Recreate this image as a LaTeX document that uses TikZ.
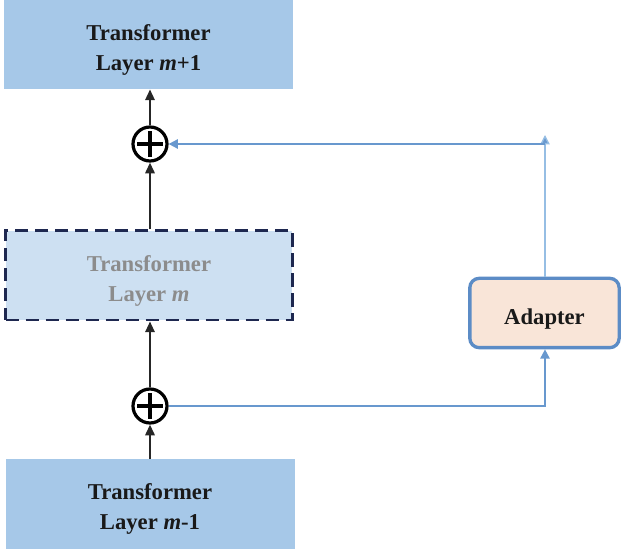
\documentclass[tikz,border=0pt]{standalone}
\usepackage{fontspec}
\setmainfont{Liberation Serif}
\usetikzlibrary{arrows.meta}
\definecolor{layerblue}{RGB}{166,200,232}
\definecolor{layerlight}{RGB}{205,224,242}
\definecolor{navy}{RGB}{30,40,80}
\definecolor{adfill}{RGB}{249,229,216}
\definecolor{adborder}{RGB}{92,140,198}
\definecolor{linkblue}{RGB}{104,152,206}
\definecolor{linklight}{RGB}{150,190,228}
\definecolor{txtgray}{RGB}{140,140,140}
\newcommand{\lowstrut}{\rule{0pt}{19.5pt}}
\begin{document}
\begin{tikzpicture}[x=0.75pt,y=-0.75pt,
  layerbox/.style={draw=none,fill=layerblue,minimum width=216.75pt,minimum height=67pt,
    align=center,font=\fontsize{17}{22.5}\selectfont\bfseries,text=black!90,inner sep=0pt},
  ghostbox/.style={draw=navy,line width=2pt,dash pattern=on 10pt off 5pt,fill=layerlight,
    minimum width=215pt,minimum height=67pt,align=center,
    font=\fontsize{17}{22.5}\selectfont\bfseries,text=txtgray,inner sep=0pt},
  adapterbox/.style={draw=adborder,line width=2.5pt,fill=adfill,rounded corners=7pt,
    minimum width=112pt,minimum height=52pt,font=\fontsize{17}{22.5}\selectfont\bfseries,
    text=black!90,inner sep=0pt},
  addnode/.style={circle,draw=black,line width=2.4pt,minimum size=25.5pt,inner sep=0pt,
    path picture={\draw[line width=2.4pt]
      ([xshift=-9.5pt]path picture bounding box.center) -- ([xshift=9.5pt]path picture bounding box.center)
      ([yshift=-9.5pt]path picture bounding box.center) -- ([yshift=9.5pt]path picture bounding box.center);}},
  blackarrow/.style={draw=black!85,line width=1.5pt,-{Triangle[length=8pt,width=7pt]}},
  bluearrow/.style={draw=linkblue,line width=1.3pt,-{Triangle[length=7pt,width=7pt]}},
  lightarrow/.style={draw=linklight,line width=1pt,-{Triangle[length=7pt,width=7pt,fill=linkblue]}}
]
\useasboundingbox (0,0) rectangle (622,552);
\node[layerbox] (top) at (148.5,44.5) {\lowstrut Transformer\\Layer \textit{m}+1};
\node[ghostbox] (mid) at (149,275.5) {\lowstrut Transformer\\Layer \textit{m}};
\node[layerbox] (bot) at (150,504) {\lowstrut Transformer\\Layer \textit{m}-1};
\node[adapterbox] (ad) at (544.5,313) {\rule{0pt}{21pt}Adapter};
\node[addnode] (p1) at (150,144) {};
\node[addnode] (p2) at (150,406) {};
\coordinate (corner) at (545,406);
\coordinate (uptip) at (545,135);
\coordinate (upright) at (545,144);

\draw[blackarrow] (p1.north) -- (p1.north |- top.south);
\draw[blackarrow] (mid.north -| p1.south) -- (p1.south);
\draw[blackarrow] (p2.north) -- (p2.north |- mid.south);
\draw[blackarrow] (bot.north -| p2.south) -- (p2.south);
\draw[bluearrow] (p2.east) -- (corner) -- (ad.south -| corner);
\draw[lightarrow] (ad.north -| uptip) -- (uptip);
\draw[bluearrow] (upright) -- (p1.east);
\end{tikzpicture}
\end{document}
